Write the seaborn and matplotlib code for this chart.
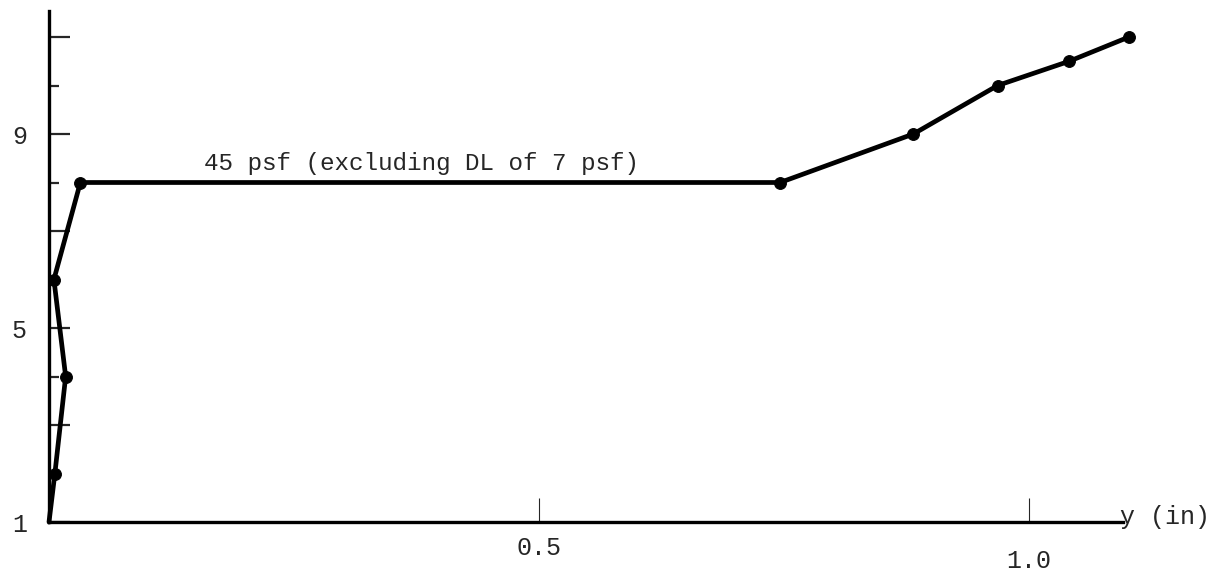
import matplotlib
matplotlib.use('Agg')
import matplotlib.pyplot as plt
import matplotlib.transforms as mtransforms
from matplotlib.ticker import FixedLocator
import seaborn as sns
import pandas as pd

# deflection (in) vs load step
deflection = [0.0, 0.006, 0.017, 0.005, 0.032, 0.746, 0.882, 0.968, 1.041, 1.102]
load_step = [1, 2, 4, 6, 8, 8, 9, 10, 10.5, 11]

x_ticks = [0.5, 1.0]
x_tick_labels = ['0.5', '1.0']
y_major = [1, 3, 5, 7, 9, 11]
y_major_labels = ['1', '', '5', '', '9', '']
y_minor = [2, 4, 6, 8, 10]

annotation = '45 psf (excluding DL of 7 psf)'
x_label = 'y (in)'

sns.set_style('ticks')
plt.rcParams['font.family'] = ['Liberation Mono', 'DejaVu Sans Mono']

df = pd.DataFrame({'deflection': deflection, 'load': load_step})

fig = plt.figure(figsize=(12.3, 5.75), dpi=100)
ax = fig.add_axes([49 / 1230, 53 / 575, 1074 / 1230, 511 / 575])

# no dot drawn at the origin in the original
sns.lineplot(data=df, x='deflection', y='load', sort=False, estimator=None,
             color='black', linewidth=3.4, marker='o', markersize=8.5,
             markeredgecolor='black', markevery=list(range(1, len(df))),
             ax=ax, clip_on=False)

ax.set_xlim(0, 1074 / 980)
ax.set_ylim(1, 1 + 511 / 48.5)

sns.despine(ax=ax)
for side in ['left', 'bottom']:
    ax.spines[side].set_linewidth(2.4)
    ax.spines[side].set_color('black')

ax.set_xticks(x_ticks)
ax.set_xticklabels(x_tick_labels, fontsize=18)
ax.tick_params(axis='x', direction='in', length=17, width=0.8, pad=10)

ax.yaxis.set_major_locator(FixedLocator(y_major))
ax.set_yticklabels(y_major_labels, fontsize=18)
ax.yaxis.set_minor_locator(FixedLocator(y_minor))
ax.tick_params(axis='y', which='major', direction='in', length=15, width=1.6, pad=16)
ax.tick_params(axis='y', which='minor', direction='in', length=7, width=1.6)

# the 1.0 label sits a little lower in the original
lbl = ax.get_xticklabels()[1]
lbl.set_transform(lbl.get_transform() +
                  mtransforms.ScaledTranslation(0, -0.13, fig.dpi_scale_trans))

ax.set_xlabel('')
ax.set_ylabel('')
ax.text(1.093, 1.1, x_label, fontsize=18, ha='left', va='center')
ax.text(0.38, 8.4, annotation, fontsize=17.5, ha='center', va='center')

fig.savefig('out.png', dpi=100, facecolor='white')
